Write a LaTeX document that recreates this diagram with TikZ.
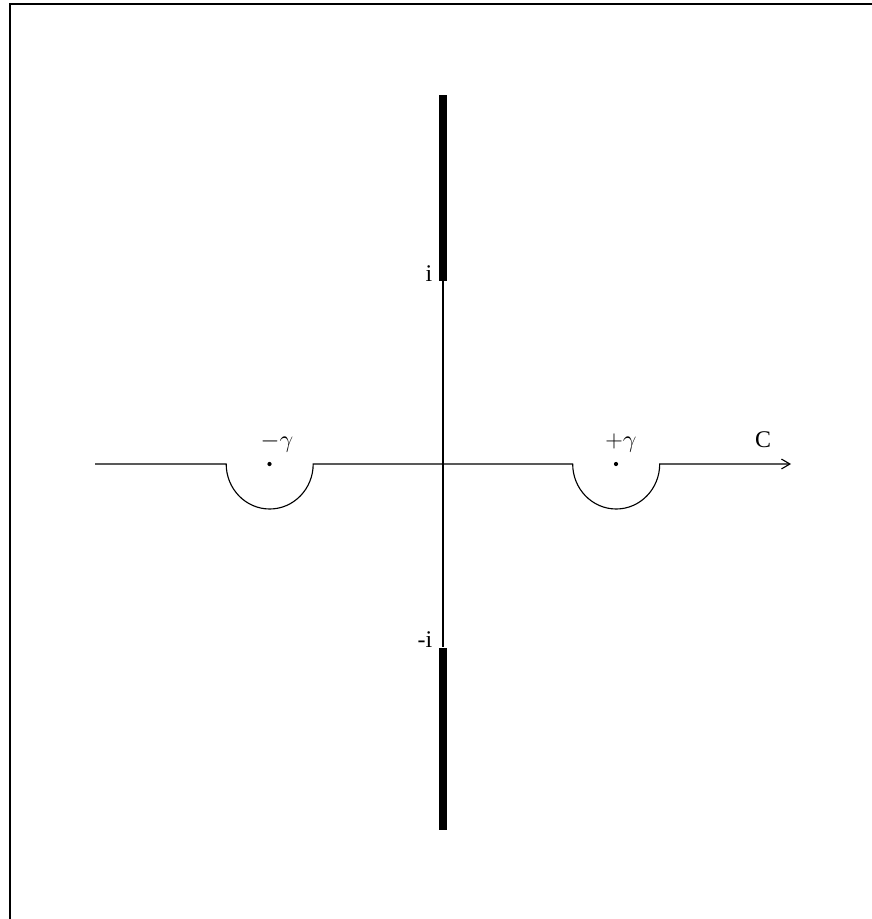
\documentclass[tikz,border=0pt]{standalone}
\usepackage{fontspec}
\setmainfont{Liberation Serif}
\usetikzlibrary{arrows.meta,positioning}
\begin{document}
\begin{tikzpicture}[x=0.025cm,y=-0.025cm,>={Straight Barb[length=6pt,width=7pt]},line width=0.8pt,
  cut/.style={fill=black,inner sep=0pt,minimum width=5.8pt},
  pole/.style={circle,fill=black,inner sep=0pt,minimum size=3pt},
  lbl/.style={font=\fontsize{17}{20}\selectfont,inner sep=0pt}]
\useasboundingbox (0,0) rectangle (872,919);
% frame
\draw[line width=1.2pt] (10,919) -- (10,4) -- (872,4);
% branch cuts
\node[cut,minimum height=132pt] (upper) at (443,188) {};
\node[cut,minimum height=130pt] (lower) at (443,739) {};
\draw (upper.south) -- (lower.north);
\node[lbl,anchor=base east] (ilab) at ([xshift=-4pt]upper.south west) {i};
\node[lbl,anchor=base east] (milab) at ([xshift=-4pt]lower.north west) {-i};
% real axis with indentations
\node[pole] (gm) at (269.5,464) {};
\node[pole] (gp) at (616,464) {};
\coordinate (west) at (95,464);
\coordinate (east) at (791,464);
\draw[->] (west) -- ([xshift=-30.8pt]gm.center)
  arc[start angle=180,end angle=0,x radius=43.5,y radius=45]
  -- ([xshift=-30.8pt]gp.center)
  arc[start angle=180,end angle=0,x radius=43.5,y radius=45] -- (east);
\node[lbl] (gmlab) at (277,443) {$-\gamma$};
\node[lbl] (gplab) at (621,443) {$+\gamma$};
\node[lbl] (clab) at (763,440) {C};
\end{tikzpicture}
\end{document}
